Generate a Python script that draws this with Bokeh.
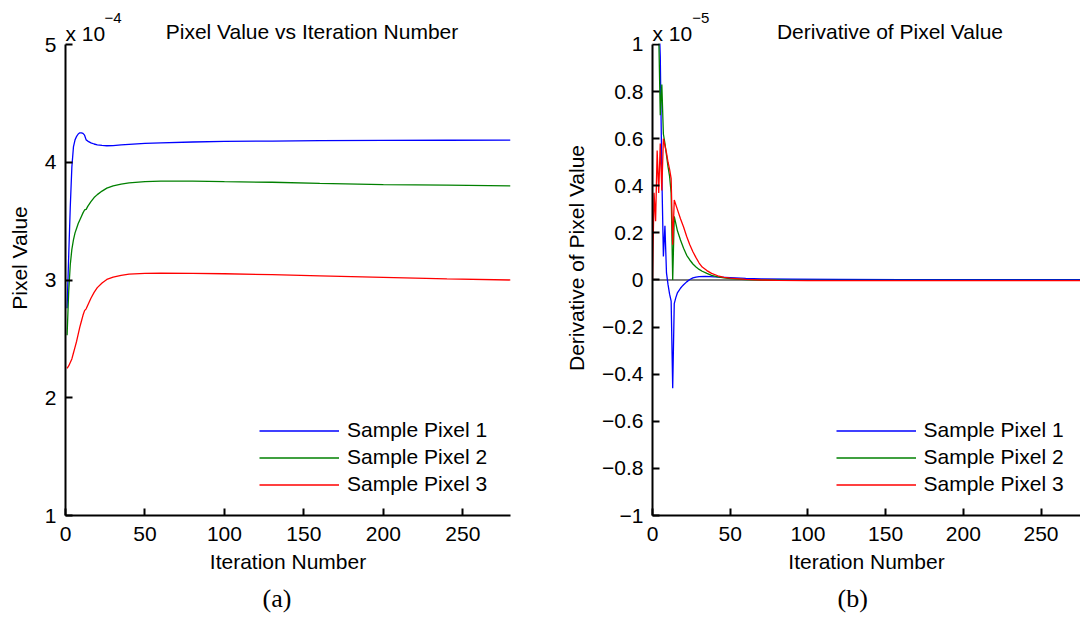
from bokeh.plotting import figure
from bokeh.layouts import row
from bokeh.models import Legend, LegendItem, FixedTicker, Span, Range1d, Title, BoxAnnotation
from bokeh.core.properties import value
from bokeh.embed import file_html
from bokeh.resources import INLINE

FONT = "Liberation Sans"
SERIF = "Liberation Serif"

# ---------------- data (left: pixel value, units of 1e-4) ----------------
iter_p1 = [1, 2, 3, 4, 5, 6, 7, 8, 9, 10, 11, 12, 13, 14, 16, 18, 20, 23, 26, 30, 35, 40, 50, 60, 80, 100, 130, 160, 200, 240, 280]
pix1 = [2.76, 3.20, 3.62, 3.96, 4.13, 4.19, 4.22, 4.24, 4.25, 4.25, 4.245, 4.23, 4.19, 4.18, 4.165, 4.155, 4.148, 4.143, 4.14, 4.142, 4.147, 4.152, 4.16, 4.165, 4.172, 4.177, 4.18, 4.183, 4.185, 4.187, 4.188]

iter_p2 = [1, 2, 3, 4, 5, 6, 7, 8, 9, 10, 11, 12, 13, 14, 16, 18, 20, 23, 26, 30, 35, 40, 50, 60, 80, 100, 130, 160, 200, 240, 280]
pix2 = [2.53, 2.90, 3.13, 3.26, 3.34, 3.40, 3.44, 3.48, 3.51, 3.54, 3.57, 3.595, 3.60, 3.625, 3.665, 3.70, 3.725, 3.755, 3.78, 3.80, 3.815, 3.825, 3.835, 3.84, 3.84, 3.835, 3.83, 3.82, 3.81, 3.805, 3.80]

iter_p3 = [1, 2, 3, 4, 5, 6, 7, 8, 9, 10, 11, 12, 13, 14, 16, 18, 20, 23, 26, 30, 35, 40, 50, 60, 80, 100, 130, 160, 200, 240, 280]
pix3 = [2.25, 2.27, 2.30, 2.33, 2.38, 2.43, 2.48, 2.54, 2.60, 2.65, 2.70, 2.74, 2.755, 2.785, 2.845, 2.895, 2.935, 2.975, 3.005, 3.025, 3.04, 3.05, 3.056, 3.058, 3.057, 3.053, 3.045, 3.035, 3.022, 3.01, 3.00]

# ---------------- data (right: derivative, units of 1e-5) ----------------
# the first values of pixels 1 and 2 run off the top of the axis (> 1) in the original
iter_d1 = [1, 3, 4, 5, 6, 7, 8, 9, 10, 11, 12, 13, 14, 15, 16, 17, 18, 19, 20, 22, 24, 26, 28, 30, 34, 40, 50, 60, 70, 90, 120, 160, 200, 280]
der1 = [1.15, 1.15, 1.15, 0.95, 0.45, 0.10, 0.23, 0.03, -0.02, -0.06, -0.09, -0.46, -0.10, -0.075, -0.055, -0.045, -0.035, -0.027, -0.02, -0.008, 0.002, 0.009, 0.012, 0.014, 0.015, 0.013, 0.01, 0.007, 0.005, 0.004, 0.003, 0.002, 0.002, 0.001]

iter_d2 = [1, 3, 4, 5, 6, 7, 8, 9, 10, 11, 12, 13, 14, 16, 18, 20, 22, 24, 26, 28, 30, 32, 35, 38, 42, 46, 50, 60, 70, 90, 150, 200, 280]
der2 = [1.15, 1.15, 1.05, 0.70, 0.83, 0.62, 0.58, 0.53, 0.48, 0.44, 0.37, 0.0, 0.27, 0.21, 0.17, 0.135, 0.105, 0.085, 0.068, 0.055, 0.045, 0.037, 0.028, 0.02, 0.013, 0.009, 0.006, 0.002, 0.0, -0.002, -0.002, -0.002, -0.002]

iter_d3 = [0, 1, 2, 3, 4, 5, 6, 7, 8, 9, 10, 11, 12, 13, 14, 16, 18, 20, 22, 24, 26, 28, 30, 32, 35, 38, 42, 46, 50, 60, 70, 80, 100, 150, 200, 280]
der3 = [0.0, 0.37, 0.25, 0.55, 0.37, 0.58, 0.38, 0.60, 0.57, 0.54, 0.50, 0.47, 0.43, 0.15, 0.34, 0.30, 0.26, 0.225, 0.185, 0.15, 0.12, 0.095, 0.072, 0.055, 0.04, 0.028, 0.018, 0.011, 0.008, 0.003, 0.0, -0.002, -0.003, -0.003, -0.003, -0.003]

series_names = ["Sample Pixel 1", "Sample Pixel 2", "Sample Pixel 3"]
series_colors = ["#0000ff", "#008000", "#ff0000"]

left_yticks = [1, 2, 3, 4, 5]
xticks = [0, 50, 100, 150, 200, 250]
right_yticks = [-1.0, -0.8, -0.6, -0.4, -0.2, 0.0, 0.2, 0.4, 0.6, 0.8, 1.0]
right_ylabels = ["\u22121", "\u22120.8", "\u22120.6", "\u22120.4", "\u22120.2", "0", "0.2", "0.4", "0.6", "0.8", "1"]


def style(p):
    p.outline_line_color = None
    p.xgrid.visible = False
    p.ygrid.visible = False
    p.background_fill_color = "white"
    p.border_fill_color = "white"
    for ax in (p.xaxis[0], p.yaxis[0]):
        ax.axis_line_width = 2
        ax.axis_line_color = "black"
        ax.major_tick_line_width = 2
        ax.major_tick_line_color = "black"
        ax.major_tick_in = 7
        ax.major_tick_out = 0
        ax.minor_tick_line_color = None
        ax.major_label_text_font = FONT
        ax.major_label_text_font_size = "21px"
        ax.major_label_text_color = "black"
        ax.axis_label_text_font = FONT
        ax.axis_label_text_font_size = "21px"
        ax.axis_label_text_font_style = "normal"
        ax.axis_label_text_color = "black"
        ax.major_label_standoff = 9
    p.xaxis[0].ticker = FixedTicker(ticks=xticks)
    p.xaxis[0].axis_label = "Iteration Number"
    p.xaxis[0].major_label_standoff = 11
    p.xaxis[0].axis_label_standoff = 6
    p.yaxis[0].axis_label_standoff = 11


def add_legend(p, renderers, x0, y0):
    items = [LegendItem(label=n, renderers=[r]) for n, r in zip(series_names, renderers)]
    leg = Legend(items=items, location=(x0, y0), border_line_color=None,
                 background_fill_alpha=0, padding=0, margin=0, spacing=0,
                 glyph_width=80, glyph_height=27, label_height=27, label_standoff=8,
                 label_text_font=FONT, label_text_font_size="21px", label_text_color="black")
    p.add_layout(leg)


def txt(p, x, y, s, size="21px", align="center"):
    p.text(x=[x], y=[y], text=[s], text_font=value(FONT), text_font_size=size,
           text_align=align, text_baseline="alphabetic", text_color="black", level="overlay")


def caption(p, s, offset):
    p.add_layout(Title(text=s, align="left", offset=offset, standoff=13,
                       text_font=SERIF, text_font_size="26px", text_font_style="normal",
                       text_color="black"), "below")


# ---------------- left panel ----------------
# frame spans from the canvas top (y=0 px) to y=515 px; the axis itself is bounded to [1, 5]
pa = figure(width=560, height=619, x_range=Range1d(0, 280), y_range=Range1d(1, 5.3737),
            min_border_left=65, min_border_right=50, min_border_top=0, min_border_bottom=104,
            output_backend="svg", toolbar_location=None)
style(pa)
pa.yaxis[0].ticker = FixedTicker(ticks=left_yticks)
pa.yaxis[0].bounds = (1, 5)
pa.yaxis[0].axis_label = "Pixel Value"
ra = []
for xs, ys, c in zip([iter_p1, iter_p2, iter_p3], [pix1, pix2, pix3], series_colors):
    ra.append(pa.line(xs, ys, line_color=c, line_width=1.3))
add_legend(pa, ra, 194, 17.5)
txt(pa, 155.1, 5.1104, "Pixel Value vs Iteration Number")
txt(pa, 0.0, 5.0892, "x 10", align="left")
txt(pa, 24.5, 5.2251, "\u22124", size="15px", align="left")
caption(pa, "(a)", 197)

# ---------------- right panel ----------------
pb = figure(width=520, height=619, x_range=Range1d(0, 275.4), y_range=Range1d(-1, 1.1868),
            min_border_left=92, min_border_right=0, min_border_top=0, min_border_bottom=104,
            output_backend="svg", toolbar_location=None)
style(pb)
pb.yaxis[0].ticker = FixedTicker(ticks=right_yticks)
pb.yaxis[0].bounds = (-1, 1)
pb.yaxis[0].major_label_overrides = {v: s for v, s in zip(right_yticks, right_ylabels)}
pb.yaxis[0].axis_label = "Derivative of Pixel Value"
pb.add_layout(Span(location=0, dimension="width", line_color="black", line_width=1, level="underlay"))
rb = []
for xs, ys, c in zip([iter_d1, iter_d2, iter_d3], [der1, der2, der3], series_colors):
    rb.append(pb.line(xs, ys, line_color=c, line_width=1.3))
# mask the part of the lines that lies above the top of the axis (y > 1)
pb.add_layout(BoxAnnotation(bottom=1.004, fill_color="white", fill_alpha=1.0,
                            line_color=None, level="annotation"))
add_legend(pb, rb, 183.5, 17.5)
txt(pb, 152.8, 1.0552, "Derivative of Pixel Value")
txt(pb, 0.0, 1.0446, "x 10", align="left")
txt(pb, 25.5, 1.1125, "\u22125", size="15px", align="left")
caption(pb, "(b)", 185)

layout = row(pa, pb)
open("out.html", "w").write(file_html(layout, INLINE))
